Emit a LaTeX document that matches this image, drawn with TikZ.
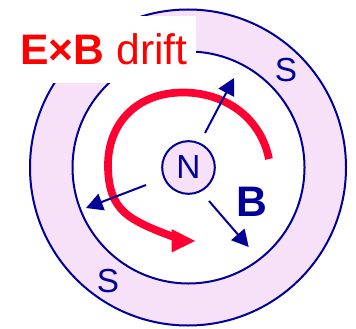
\documentclass[tikz,border=0pt]{standalone}
\usepackage{fontspec}
\setmainfont{Liberation Sans}
\usetikzlibrary{arrows.meta}
\definecolor{navy}{HTML}{000099}
\definecolor{lilac}{HTML}{F7E1F8}
\definecolor{redline}{HTML}{FF0033}
\definecolor{redtext}{HTML}{FF0000}
\tikzset{
  ring/.style={draw=navy,line width=1.5pt},
  field/.style={draw=navy,fill=navy,line width=1.5pt,-{Triangle[length=12.5pt,width=13pt]}},
  lab/.style={text=navy,inner sep=0pt,font=\fontsize{25}{25}\selectfont},
  drift/.style={draw=redline,line width=5.8pt}
}
\begin{document}
\begin{tikzpicture}[x=0.75pt,y=-0.75pt]
\useasboundingbox (0,0) rectangle (356,328);
\fill[white] (0,0) rectangle (356,328);
\path[ring,fill=lilac] (188,167.5) circle[radius=158];
\path[ring,fill=white] (188.5,167.5) circle[radius=116];
\fill[white] (13,16) rectangle (196,83);
\node[ring,circle,fill=lilac,minimum size=39.5pt,inner sep=0pt] (N) at (188.5,167.5) {};
\node[lab] at (N.center) {N};
\node[lab] (S1) at (286,70) {S};
\node[lab] (S2) at (108,281) {S};
\node[text=navy,inner sep=0pt,font=\fontsize{32}{32}\selectfont\bfseries] (B) at (252,202) {B};
\node[anchor=base west,inner sep=0pt,text=redtext,font=\fontsize{32}{32}\selectfont] (T) at (20,64.5) {\textbf{E×B} drift};
\coordinate (a1) at (205,133); \coordinate (a2) at (234,78);
\coordinate (b1) at (146,185); \coordinate (b2) at (86,208);
\coordinate (c1) at (209,201); \coordinate (c2) at (248.7,247);
\draw[drift] (269,159) .. controls (260,115) and (222,92) .. (182,92.5)
  .. controls (135,93) and (108,125) .. (108,165)
  .. controls (108,190) and (114,208) .. (135,220)
  .. controls (145,226) and (160,232) .. (174,237);
\fill[redline] (171.5,229) -- (195,241) -- (171.5,252.5) -- cycle;
\draw[field] (a1) -- (a2);
\draw[field] (b1) -- (b2);
\draw[field] (c1) -- (c2);
\end{tikzpicture}
\end{document}
